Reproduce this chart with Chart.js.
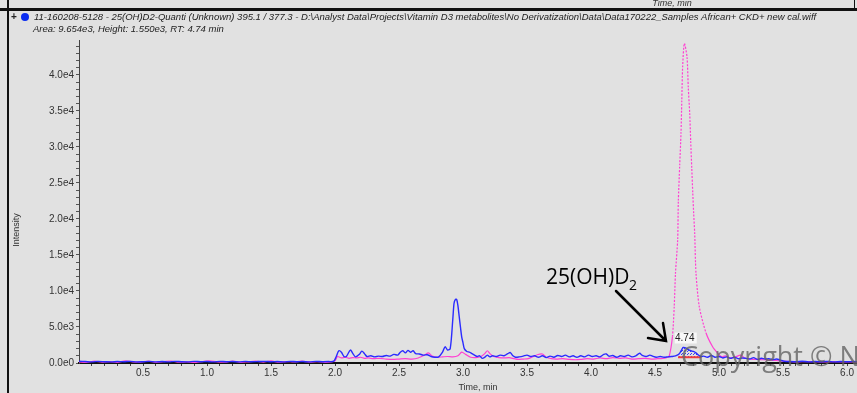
<!DOCTYPE html>
<html>
<head>
<meta charset="utf-8">
<script src="https://cdn.jsdelivr.net/npm/chart.js@4/dist/chart.umd.min.js"></script>
<style>
  body { margin: 0; background: #e1e1e1; }
  canvas { display: block; }
</style>
</head>
<body>
<canvas id="xic" width="857" height="393"></canvas>
<script>
// sample trace (blue), time in min / intensity in cps
var blueTime = [0.00,0.05,0.10,0.15,0.20,0.25,0.30,0.35,0.40,0.45,0.50,0.55,0.60,0.65,0.70,0.75,0.80,0.85,0.90,0.95,
  1.00,1.05,1.10,1.15,1.20,1.25,1.30,1.35,1.40,1.45,1.50,1.55,1.60,1.65,1.70,1.75,1.80,1.85,1.90,1.95,1.99,
  2.01,2.03,2.05,2.07,2.09,2.12,2.14,2.16,2.19,2.21,2.23,2.25,2.28,2.31,2.34,2.37,2.40,2.43,2.46,2.49,
  2.51,2.53,2.55,2.57,2.59,2.61,2.63,2.66,2.69,2.72,2.75,2.78,2.81,2.84,2.86,2.88,2.90,2.92,2.93,2.94,
  2.95,2.96,2.97,2.98,2.99,3.00,3.01,3.03,3.05,3.07,3.09,3.11,3.13,3.15,3.17,3.19,3.21,3.23,3.26,3.29,
  3.32,3.35,3.37,3.39,3.41,3.44,3.47,3.50,3.53,3.56,3.59,3.62,3.65,3.68,3.71,3.74,3.77,3.80,3.83,3.86,
  3.89,3.92,3.95,3.98,4.01,4.04,4.07,4.10,4.12,4.14,4.17,4.20,4.23,4.26,4.29,4.32,4.35,4.38,4.40,4.43,
  4.46,4.48,4.51,4.54,4.57,4.60,4.63,4.66,4.69,4.71,4.72,4.74,4.76,4.78,4.80,4.82,4.84,4.86,4.88,4.91,
  4.94,4.97,5.00,5.03,5.06,5.09,5.12,5.15,5.18,5.21,5.24,5.27,5.30,5.33,5.36,5.39,5.42,5.45,5.48,5.51,
  5.55,5.60,5.65,5.70,5.75,5.80,5.85,5.90,5.95,6.00,6.05,6.09];
var blueValue = [250,200,150,220,180,150,200,170,230,150,180,220,160,200,150,230,180,160,220,180,
  200,150,230,180,200,160,220,170,200,230,170,200,160,230,180,200,150,220,180,200,250,
  900,1700,1500,900,950,1800,1300,850,1200,1650,1300,900,1000,850,950,900,1050,950,1200,1100,
  1500,1700,1400,1750,1500,1700,1300,1250,1100,1150,900,800,850,1500,2250,1800,2000,6000,8300,8800,
  8850,8000,6500,5000,3600,2800,2000,1600,1500,1300,1100,900,1000,650,800,1100,850,1000,900,1100,
  1000,1300,1450,1000,800,850,950,1100,900,1000,800,1000,750,950,800,1050,900,1100,850,1000,
  800,1000,850,1100,900,1000,850,1200,1250,950,1050,800,1000,900,1100,850,1000,1350,1050,900,
  1100,950,800,900,800,850,900,1000,1300,1900,2150,2100,1850,1700,1600,1400,1100,900,950,800,
  1050,800,900,700,850,650,800,600,700,650,550,750,500,650,550,600,450,550,400,250,
  200,180,250,150,200,180,220,150,200,180,200,180];

// standard / IS trace (magenta)
var pinkTime = [0.00,0.06,0.12,0.18,0.24,0.30,0.36,0.42,0.48,0.54,0.60,0.66,0.72,0.78,0.84,0.90,0.96,
  1.02,1.08,1.14,1.20,1.26,1.32,1.38,1.44,1.50,1.56,1.62,1.68,1.74,1.80,1.86,1.92,1.97,
  2.00,2.02,2.05,2.08,2.11,2.14,2.17,2.20,2.23,2.26,2.30,2.35,2.40,2.45,2.50,2.55,2.60,2.65,2.70,2.73,
  2.76,2.80,2.84,2.88,2.92,2.96,2.99,3.02,3.06,3.10,3.14,3.17,3.19,3.21,3.24,3.28,3.32,3.36,3.40,3.43,
  3.47,3.51,3.55,3.58,3.62,3.65,3.69,3.73,3.78,3.83,3.88,3.92,3.97,4.02,4.07,4.12,4.17,4.22,4.27,4.32,
  4.37,4.42,4.47,4.52,4.56,4.59,4.61,4.636,4.65,4.66,4.677,4.682,4.693,4.703,4.709,4.716,4.729,4.75,
  4.76,4.771,4.779,4.787,4.795,4.802,4.81,4.82,4.846,4.898,4.95,4.99,5.02,5.05,5.08,5.12,5.17,5.20,
  5.25,5.30,5.35,5.40,5.45,5.50,5.55,5.60,5.70,5.80,5.90,6.00,6.09];
var pinkValue = [150,100,250,120,180,90,300,150,120,250,100,180,280,120,150,90,200,
  300,150,120,280,100,160,250,130,300,110,200,150,260,120,180,100,150,
  300,900,700,800,650,750,700,800,650,700,600,650,550,500,550,600,550,700,1100,1400,
  950,800,850,900,850,1000,1500,1200,800,750,900,1300,1700,1300,900,750,700,750,600,500,
  550,600,900,1150,1250,800,600,550,600,500,450,500,600,550,700,600,750,650,700,550,
  600,650,550,600,650,750,900,3650,7800,12500,17100,22400,27500,31900,36300,41200,44400,42500,
  38200,34700,30700,27100,23600,20800,18000,12500,7800,4200,2250,1350,850,1000,700,800,1100,700,
  550,500,450,400,350,250,200,150,200,150,180,150,170];

// integrated peak (RT 4.74) and its baseline
var peakTime = [4.68,4.69,4.71,4.72,4.74,4.76,4.78,4.80,4.82,4.84,4.86];
var peakValue = [1150,1300,1900,2150,2100,1850,1700,1600,1400,1100,900];
var peakBase = 800;

var yTicks = [0, 5000, 10000, 15000, 20000, 25000, 30000, 35000, 40000];
var yLabels = ['0.0e0','5.0e3','1.0e4','1.5e4','2.0e4','2.5e4','3.0e4','3.5e4','4.0e4'];

function pts(xs, ys) {
  var out = [];
  for (var i = 0; i < xs.length; i++) out.push({ x: xs[i], y: ys[i] });
  return out;
}

// dotted fill for the integrated area
var dotCanvas = document.createElement('canvas');
dotCanvas.width = 3; dotCanvas.height = 3;
var dctx = dotCanvas.getContext('2d');
dctx.fillStyle = '#3a3aff';
dctx.fillRect(0, 0, 1, 1);
dctx.fillRect(1, 2, 1, 1);
var dots = document.getElementById('xic').getContext('2d').createPattern(dotCanvas, 'repeat');

var frame = {
  id: 'frame',
  beforeDraw: function(chart) {
    var c = chart.ctx;
    c.save();
    c.fillStyle = '#e1e1e1';
    c.fillRect(0, 0, chart.width, chart.height);
    c.restore();
  },
  afterDraw: function(chart) {
    var c = chart.ctx;
    c.save();
    // strip of the pane above + dark splitter
    c.fillStyle = '#111';
    c.fillRect(0, 8, chart.width, 3);
    c.fillRect(7, 0, 2, chart.height);
    c.fillRect(854, 0, 1, 8);
    c.fillStyle = '#333';
    c.font = 'italic 9px "Liberation Sans"';
    c.textAlign = 'center';
    c.textBaseline = 'middle';
    c.fillText('Time, min', 672, 3);

    // pane header
    c.textAlign = 'left';
    c.fillStyle = '#222';
    c.font = 'bold 10px "Liberation Sans"';
    c.fillText('+', 11, 17);
    c.fillStyle = '#0a2cf0';
    c.beginPath();
    c.arc(25, 17, 4, 0, Math.PI * 2);
    c.fill();
    c.fillStyle = '#222';
    c.font = 'italic 9.5px "Liberation Sans"';
    c.fillText('11-160208-5128 - 25(OH)D2-Quanti (Unknown) 395.1 / 377.3 - D:\\Analyst Data\\Projects\\Vitamin D3 metabolites\\No Derivatization\\Data\\Data170222_Samples African+ CKD+ new cal.wiff', 34, 17);
    c.fillText('Area: 9.654e3, Height: 1.550e3, RT: 4.74 min', 33, 29);

    // axis titles
    c.fillStyle = '#333';
    c.font = '9px "Liberation Sans"';
    c.textAlign = 'center';
    c.fillText('Time, min', 478, 388);
    c.translate(17, 230);
    c.rotate(-Math.PI / 2);
    c.fillText('Intensity', 0, 0);
    c.setTransform(1, 0, 0, 1, 0, 0);

    var xs = chart.scales.x, ys = chart.scales.y;
    // RT label
    var rx = xs.getPixelForValue(4.74), ry = ys.getPixelForValue(2150) - 9;
    c.font = '10px "Liberation Sans"';
    c.fillStyle = 'rgba(255,255,255,0.75)';
    c.fillRect(rx - 11, ry - 6, 22, 11);
    c.fillStyle = '#222';
    c.fillText('4.74', rx - 1, ry);

    // annotation arrow
    c.strokeStyle = '#000';
    c.lineWidth = 2.5;
    c.lineCap = 'round';
    c.beginPath();
    c.moveTo(616, 291);
    c.lineTo(666, 341);
    c.moveTo(648, 338);
    c.lineTo(666, 341);
    c.lineTo(663, 323);
    c.stroke();

    c.fillStyle = '#000';
    c.textAlign = 'left';
    c.textBaseline = 'alphabetic';
    c.font = '21px "Open Sans"';
    c.fillText('25(OH)D', 546, 284);
    c.font = '14px "Open Sans"';
    c.fillText('2', 629, 290);

    // watermark
    c.fillStyle = 'rgba(100,100,100,0.8)';
    c.font = '27px "Open Sans"';
    c.fillText('Copyright \u00a9 N', 681, 366);
    c.restore();
  }
};

new Chart(document.getElementById('xic'), {
  type: 'line',
  data: {
    datasets: [
      {
        label: 'peak area',
        data: pts(peakTime, peakValue),
        borderWidth: 0,
        pointRadius: 0,
        backgroundColor: dots,
        fill: { value: peakBase },
        order: 3
      },
      {
        label: 'baseline',
        data: [{ x: peakTime[0], y: peakBase }, { x: peakTime[peakTime.length - 1], y: peakBase }],
        borderColor: '#f03c3c',
        borderWidth: 2,
        pointRadius: 0,
        order: 2
      },
      {
        label: '395.1 / 377.3',
        data: pts(pinkTime, pinkValue),
        borderColor: '#ff3fd2',
        borderWidth: 1.2,
        pointRadius: 0,
        tension: 0.25,
        segment: {
          borderDash: function(ctx) {
            return (ctx.p0.parsed.y > 2500 && ctx.p1.parsed.y > 2500) ? [2, 1.5] : undefined;
          }
        },
        order: 1
      },
      {
        label: 'sample',
        data: pts(blueTime, blueValue),
        borderColor: '#2b2bff',
        borderWidth: 1.4,
        pointRadius: 0,
        tension: 0.3,
        order: 0
      }
    ]
  },
  options: {
    responsive: false,
    animation: false,
    layout: { padding: { top: 40, left: 0, right: 0, bottom: 0 } },
    plugins: { legend: { display: false }, tooltip: { enabled: false } },
    scales: {
      x: {
        type: 'linear',
        min: 0,
        max: 6.078,
        afterFit: function(s) { s.height = 30; },
        afterBuildTicks: function(s) {
          var t = [];
          for (var i = 1; i <= 60; i++) t.push({ value: i / 10 });
          s.ticks = t;
        },
        ticks: {
          autoSkip: false,
          maxRotation: 0,
          padding: 1,
          color: '#333',
          font: { family: 'Liberation Sans', size: 10 },
          callback: function(v) {
            var k = Math.round(v * 10);
            return k % 5 === 0 ? (k / 10).toFixed(1) : '';
          }
        },
        grid: { drawOnChartArea: false, drawTicks: true, tickLength: 3, color: '#444' },
        border: { color: '#111', width: 2 }
      },
      y: {
        min: 0,
        max: 44860,
        afterFit: function(s) { s.width = 79; },
        afterBuildTicks: function(s) {
          var t = [];
          for (var v = 0; v <= 44000; v += 1000) t.push({ value: v });
          s.ticks = t;
        },
        ticks: {
          autoSkip: false,
          padding: 2,
          color: '#333',
          font: { family: 'Liberation Sans', size: 10 },
          callback: function(v) {
            var i = yTicks.indexOf(v);
            return i >= 0 ? yLabels[i] : '';
          }
        },
        grid: { drawOnChartArea: false, drawTicks: true, tickLength: 3, color: '#555' },
        border: { color: '#444', width: 1 }
      }
    }
  },
  plugins: [frame]
});
</script>
</body>
</html>
